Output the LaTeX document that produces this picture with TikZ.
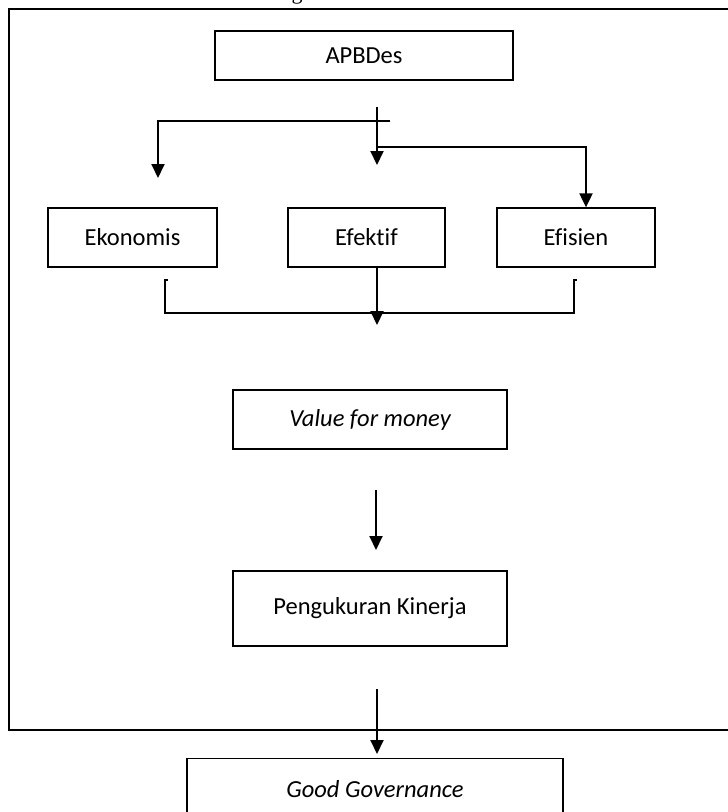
\documentclass[tikz,border=0pt]{standalone}
\usepackage{fontspec}
\setmainfont{Carlito}[Ligatures=NoCommon]
\newfontfamily\timesf{Liberation Serif}
\usetikzlibrary{arrows.meta}
\begin{document}
\begin{tikzpicture}[x=1pt,y=-1pt,
  box/.style={draw, line width=1.3pt, inner sep=0pt, font=\fontsize{24.5}{28}\selectfont},
  arr/.style={line width=2pt, -{Triangle[width=13pt,length=14pt]}},
  ln/.style={line width=2pt},
  thinln/.style={line width=1.5pt},
  frameln/.style={line width=2.5pt}]
\useasboundingbox (0,0) rectangle (728,812);
\clip (0,0) rectangle (728,812);
% cut-off caption above the frame
\node[font=\timesf\fontsize{22}{26}\selectfont, anchor=base, inner sep=0pt] (cap) at (297,-0.5) {g};
% outer frame (right side lies outside the picture)
\draw[frameln] (740,9) -- (9,9) -- (9,730) -- (740,730);
% boxes
\node[box, minimum width=298pt, minimum height=49pt] (apb) at (364,55.5) {APBDes};
\node[box, minimum width=169pt, minimum height=59pt] (eko) at (132.5,237.5) {Ekonomis};
\node[box, minimum width=157pt, minimum height=59pt] (efk) at (366.5,237.5) {Efektif};
\node[box, minimum width=158pt, minimum height=59pt] (efs) at (576,237.5) {Efisien};
\node[box, minimum width=274pt, minimum height=59pt] (vfm) at (370,419.5) {\itshape Value for money};
\node[box, minimum width=274pt, minimum height=75pt] (pk) at (370,608.5) {Pengukuran Kinerja};
\node[box, minimum width=376pt, minimum height=70pt, anchor=north] (gg) at (375,758) {\raisebox{9pt}{\itshape Good Governance}};
% branching arrows from APBDes
\coordinate (t0) at (377,107);
\coordinate (t1) at (377,165);
\coordinate (h0) at (390,121);
\coordinate (l1) at (158,178);
\coordinate (hr) at (377,147);
\coordinate (r1) at (586,205);
\draw[arr] (t0) -- (t1);
\draw[arr] (h0) -| (l1);
\draw[arr] (hr) -| (r1 |- efs.north);
% joining bracket below the three boxes
\coordinate (bl) at (165,280);
\coordinate (br) at (574,280);
\coordinate (by) at (0,313);
\draw[thinln] ([xshift=2.5pt]bl) -- (bl) -- (bl |- by) -- (br |- by) -- (br) -- ([xshift=3pt]br);
\coordinate (c1) at (377,325);
\draw[arr] (c1 |- efk.south) -- (c1);
% lower arrows
\coordinate (v0) at (376,490);
\coordinate (v1) at (376,550);
\draw[arr] (v0) -- (v1);
\coordinate (p0) at (377,689);
\coordinate (p1) at (377,754);
\draw[arr] (p0) -- (p1);
\end{tikzpicture}
\end{document}
